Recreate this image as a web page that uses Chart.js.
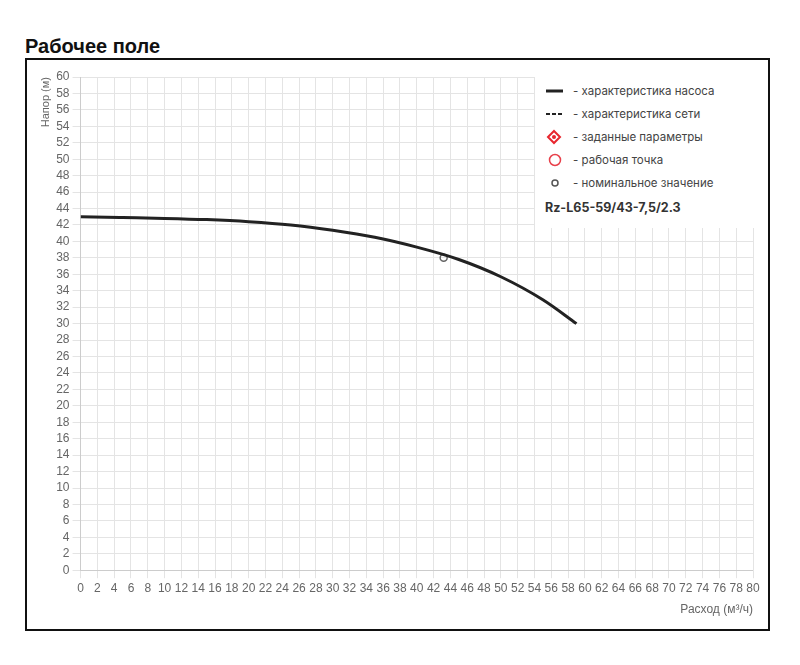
<!DOCTYPE html>
<html>
<head>
<meta charset="utf-8">
<script src="https://cdn.jsdelivr.net/npm/chart.js@4"></script>
<style>
  body { margin: 0; background: #fff; font-family: "Liberation Sans", Arial, sans-serif; }
  h3 { position: absolute; left: 25px; top: 35px; margin: 0; font-size: 20px; font-weight: bold; color: #111; }
  .frame { position: absolute; left: 25px; top: 58px; width: 741px; height: 569px; border: 2px solid #111; }
  .legend { position: absolute; left: 508px; top: 16px; width: 222px; height: 152px; background: #fff;
            font-family: Inter, "Noto Sans", sans-serif; font-size: 11.5px; color: #444; }
  .legend .row { position: absolute; left: 10px; height: 16px; display: flex; align-items: center; }
  .legend .row svg { width: 22px; height: 16px; margin-right: 6px; }
  .legend .model { position: absolute; left: 10px; font-weight: bold; font-size: 12.5px; color: #333; }
</style>
</head>
<body>
<h3>Рабочее поле</h3>
<div class="frame">
  <canvas id="pumpChart" width="741" height="569"></canvas>
  <div class="legend" id="legend"></div>
</div>
<script>
// pump curve H(Q)
const flowValues = [0, 5, 10, 15, 20, 25, 30, 35, 40, 45, 50, 55, 59];
const headValues = [43.0, 42.9, 42.8, 42.65, 42.4, 42.0, 41.35, 40.5, 39.3, 37.8, 35.7, 32.9, 30.0];
// nominal point
const nominalFlow = [43.2];
const nominalHead = [38.0];

const legendItems = [
  { icon: "solid", text: "- характеристика насоса" },
  { icon: "dashed", text: "- характеристика сети" },
  { icon: "target", text: "- заданные параметры" },
  { icon: "circle", text: "- рабочая точка" },
  { icon: "dot", text: "- номинальное значение" },
];
const modelName = "Rz-L65-59/43-7,5/2.3";

const icons = {
  solid: '<line x1="1" y1="8" x2="18" y2="8" stroke="#222" stroke-width="3"/>',
  dashed: '<line x1="1" y1="8" x2="18" y2="8" stroke="#222" stroke-width="2" stroke-dasharray="4,2"/>',
  target: '<path d="M9 2 L15 8 L9 14 L3 8 Z" fill="none" stroke="#e8262e" stroke-width="2"/><circle cx="9" cy="8" r="2" fill="#e8262e"/>',
  circle: '<circle cx="10" cy="8" r="5.5" fill="none" stroke="#e8404a" stroke-width="1.5"/>',
  dot: '<circle cx="10" cy="8" r="3" fill="none" stroke="#555" stroke-width="1.5"/>',
};

const legendEl = document.getElementById("legend");
legendItems.forEach((item, i) => {
  const row = document.createElement("div");
  row.className = "row";
  row.style.top = (i * 23 + 7) + "px";
  row.innerHTML = '<svg viewBox="0 0 22 16">' + icons[item.icon] + '</svg><span>' + item.text + '</span>';
  legendEl.appendChild(row);
});
const model = document.createElement("div");
model.className = "model";
model.style.top = "124px";
model.textContent = modelName;
legendEl.appendChild(model);

const curveData = flowValues.map((q, i) => ({ x: q, y: headValues[i] }));
const nominalData = nominalFlow.map((q, i) => ({ x: q, y: nominalHead[i] }));

const tickFont = { family: "'Liberation Sans', Arial, sans-serif", size: 12 };

new Chart(document.getElementById("pumpChart"), {
  type: "scatter",
  data: {
    datasets: [
      {
        label: "характеристика насоса",
        data: curveData,
        showLine: true,
        borderColor: "#222",
        borderWidth: 3,
        cubicInterpolationMode: "monotone",
        pointRadius: 0,
        fill: false,
      },
      {
        label: "номинальное значение",
        data: nominalData,
        pointRadius: 3.5,
        pointBorderColor: "#666",
        pointBackgroundColor: "rgba(0,0,0,0)",
        pointBorderWidth: 1.5,
      },
    ],
  },
  options: {
    responsive: false,
    animation: false,
    layout: { padding: { top: 17, right: 15, left: 5, bottom: 8 } },
    plugins: { legend: { display: false }, tooltip: { enabled: false } },
    scales: {
      x: {
        type: "linear",
        min: 0,
        max: 80,
        ticks: { stepSize: 2, autoSkip: false, maxRotation: 0, color: "#666", font: tickFont },
        grid: { color: "#e4e4e4" },
        title: { display: true, text: "Расход (м³/ч)", align: "end", color: "#666", font: tickFont },
      },
      y: {
        min: 0,
        max: 60,
        ticks: { stepSize: 2, autoSkip: false, color: "#666", font: tickFont },
        grid: { color: "#e4e4e4" },
        title: {
          display: true,
          text: "Напор (м)",
          align: "end",
          color: "#666",
          padding: { top: 7, bottom: 1 },
          font: { family: tickFont.family, size: 11 },
        },
      },
    },
  },
});
</script>
</body>
</html>
